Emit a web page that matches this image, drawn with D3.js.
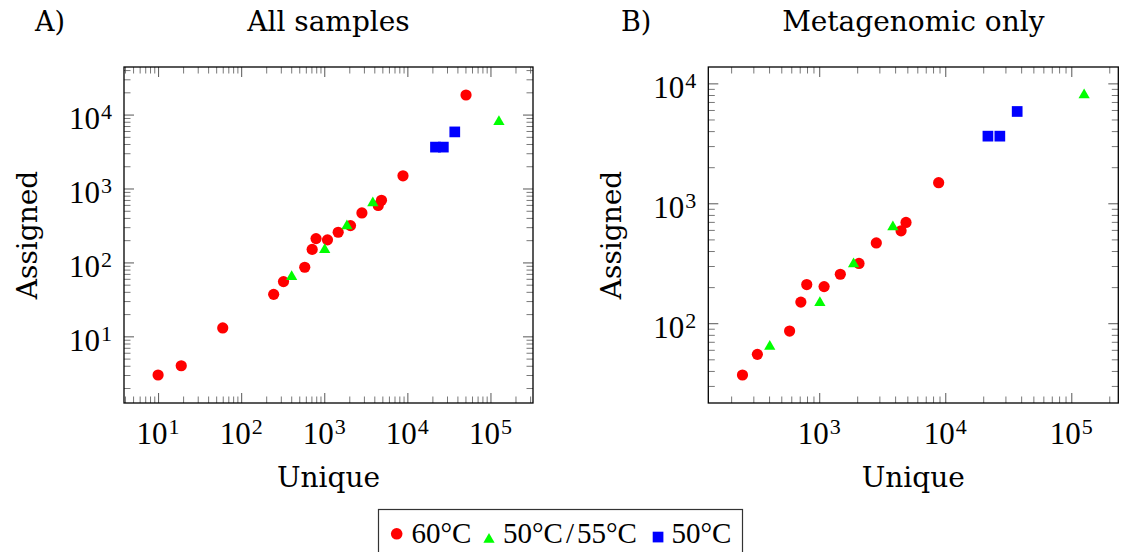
<!DOCTYPE html>
<html>
<head>
<meta charset="utf-8">
<script src="https://cdn.jsdelivr.net/npm/d3@7"></script>
<style>
  html, body { margin: 0; padding: 0; background: #fff; }
  svg { display: block; }
</style>
</head>
<body>
<svg id="chart" width="1125" height="552"></svg>
<script>
// ---------------- data ----------------
// 60°C samples (red circles)
const redUnique   = [10, 19, 60, 246, 323, 582, 715, 796, 1093, 1470, 2068, 2837, 4460, 4880, 8860, 50800];
const redAssigned = [3.0, 4.0, 13, 37, 55, 86, 150, 210, 202, 256, 315, 467, 590, 692, 1486, 18400];
const redMetagenomic = [false, false, false, true, true, true, true, true, true, true, true, true, true, true, true, false];
// 50°C/55°C samples (green triangles)
const greenUnique   = [405, 1012, 1873, 3840, 126400];
const greenAssigned = [64, 148, 312, 635, 8000];
const greenMetagenomic = [true, true, true, true, true];
// 50°C samples (blue squares)
const blueUnique   = [21800, 27100, 37200];
const blueAssigned = [3630, 3630, 5830];
const blueMetagenomic = [true, true, true];

const seriesNames = ["60°C", "50°C/55°C", "50°C"];
const panelTitles = ["All samples", "Metagenomic only"];
const panelLetters = ["A)", "B)"];
const xLabel = "Unique";
const yLabel = "Assigned";
// tick labels (exponents of 10)
const xTickExpA = [1, 2, 3, 4, 5];
const yTickExpA = [1, 2, 3, 4];
const xTickExpB = [3, 4, 5];
const yTickExpB = [2, 3, 4];

// ---------------- layout ----------------
const COLORS = { red: "#ff0000", green: "#00ff00", blue: "#0000ff" };
const WORD_FONT = "'DejaVu Serif', serif";
const NUM_FONT = "'Liberation Serif', 'Times New Roman', serif";

const svg = d3.select("#chart");

function buildSeries(onlyMeta) {
  const mk = (xs, ys, flags) => xs.map((x, i) => ({ x, y: ys[i], keep: !onlyMeta || flags[i] })).filter(d => d.keep);
  return {
    red: mk(redUnique, redAssigned, redMetagenomic),
    green: mk(greenUnique, greenAssigned, greenMetagenomic),
    blue: mk(blueUnique, blueAssigned, blueMetagenomic)
  };
}

function logExtent(vals) {
  const l = vals.map(Math.log10);
  const mn = d3.min(l), mx = d3.max(l);
  const e = (mx - mn) * 0.1;
  return [Math.pow(10, mn - e), Math.pow(10, mx + e)];
}

function minorValues(domain) {
  const out = [];
  const k0 = Math.floor(Math.log10(domain[0])), k1 = Math.ceil(Math.log10(domain[1]));
  for (let k = k0; k <= k1; k++) {
    for (let m = 2; m <= 9; m++) {
      const v = m * Math.pow(10, k);
      if (v >= domain[0] && v <= domain[1]) out.push(v);
    }
  }
  return out;
}

const panels = [
  { left: 124, right: 533, top: 67, bottom: 403, onlyMeta: false, title: panelTitles[0], letter: panelLetters[0], letterX: 35, xExp: xTickExpA, yExp: yTickExpA },
  { left: 708.3, right: 1118.3, top: 67, bottom: 403, onlyMeta: true, title: panelTitles[1], letter: panelLetters[1], letterX: 621, xExp: xTickExpB, yExp: yTickExpB }
];

function triPath(r) {
  return `M0,${-r}L${0.866 * r},${0.5 * r}L${-0.866 * r},${0.5 * r}Z`;
}

function addPowerLabel(sel, exp) {
  sel.append("tspan").attr("font-size", 31).text("10");
  sel.append("tspan").attr("font-size", 22).attr("dy", -10).attr("dx", 1).text(String(exp));
}

panels.forEach(p => {
  const s = buildSeries(p.onlyMeta);
  const all = [...s.red, ...s.green, ...s.blue];
  const xDom = logExtent(all.map(d => d.x));
  const yDom = logExtent(all.map(d => d.y));
  const x = d3.scaleLog().domain(xDom).range([p.left, p.right]);
  const y = d3.scaleLog().domain(yDom).range([p.bottom, p.top]);

  const g = svg.append("g");

  const xMaj = p.xExp.map(e => Math.pow(10, e));
  const yMaj = p.yExp.map(e => Math.pow(10, e));
  const xMin = minorValues(xDom);
  const yMin = minorValues(yDom);

  const axes = [
    [d3.axisBottom, x, `translate(0,${p.bottom})`],
    [d3.axisTop, x, `translate(0,${p.top})`],
    [d3.axisLeft, y, `translate(${p.left},0)`],
    [d3.axisRight, y, `translate(${p.right},0)`]
  ];
  axes.forEach(([fn, sc, tr]) => {
    const isX = sc === x;
    const maj = isX ? xMaj : yMaj;
    const min = isX ? xMin : yMin;
    const gm = g.append("g").attr("transform", tr).attr("color", "#555")
      .call(fn(sc).tickValues(min).tickSize(-6.5).tickFormat(""));
    gm.select(".domain").remove();
    gm.selectAll("line").attr("stroke-width", 0.8);
    const gM = g.append("g").attr("transform", tr).attr("color", "#444")
      .call(fn(sc).tickValues(maj).tickSize(-10).tickFormat(""));
    gM.select(".domain").remove();
    gM.selectAll("line").attr("stroke-width", 0.9);
  });

  // frame
  g.append("rect")
    .attr("x", p.left).attr("y", p.top)
    .attr("width", p.right - p.left).attr("height", p.bottom - p.top)
    .attr("fill", "none").attr("stroke", "#000").attr("stroke-width", 1.3);

  // tick labels
  xMaj.forEach((v, i) => {
    const t = g.append("text")
      .attr("x", x(v)).attr("y", p.bottom + 41)
      .attr("text-anchor", "middle")
      .attr("font-family", NUM_FONT).attr("fill", "#000");
    addPowerLabel(t, p.xExp[i]);
  });
  yMaj.forEach((v, i) => {
    const t = g.append("text")
      .attr("x", p.left - 12).attr("y", y(v) + 14.5)
      .attr("text-anchor", "end")
      .attr("font-family", NUM_FONT).attr("fill", "#000");
    addPowerLabel(t, p.yExp[i]);
  });

  // axis labels
  g.append("text")
    .attr("x", (p.left + p.right) / 2).attr("y", 487)
    .attr("text-anchor", "middle")
    .attr("font-family", WORD_FONT).attr("font-size", 28)
    .text(xLabel);
  g.append("text")
    .attr("transform", `translate(${p.left - 87},${(p.top + p.bottom) / 2}) rotate(-90)`)
    .attr("text-anchor", "middle")
    .attr("font-family", WORD_FONT).attr("font-size", 28)
    .text(yLabel);

  // title and panel letter
  g.append("text")
    .attr("x", (p.left + p.right) / 2).attr("y", 31)
    .attr("text-anchor", "middle")
    .attr("font-family", WORD_FONT).attr("font-size", 28)
    .text(p.title);
  g.append("text")
    .attr("x", p.letterX).attr("y", 31)
    .attr("font-family", WORD_FONT).attr("font-size", 27)
    .text(p.letter);

  // marks
  g.append("g").selectAll("circle").data(s.red).join("circle")
    .attr("cx", d => x(d.x)).attr("cy", d => y(d.y)).attr("r", 5.6)
    .attr("fill", COLORS.red);
  g.append("g").selectAll("path").data(s.green).join("path")
    .attr("transform", d => `translate(${x(d.x)},${y(d.y)})`)
    .attr("d", triPath(6.5))
    .attr("fill", COLORS.green);
  g.append("g").selectAll("rect").data(s.blue).join("rect")
    .attr("x", d => x(d.x) - 5.35).attr("y", d => y(d.y) - 5.35)
    .attr("width", 10.7).attr("height", 10.7)
    .attr("fill", COLORS.blue);
});

// ---------------- legend ----------------
const lg = svg.append("g");
lg.append("rect")
  .attr("x", 378.5).attr("y", 509.5).attr("width", 364).attr("height", 60)
  .attr("fill", "#fff").attr("stroke", "#333").attr("stroke-width", 1.2);
lg.append("circle").attr("cx", 396.7).attr("cy", 533.8).attr("r", 5.8).attr("fill", COLORS.red);
lg.append("path").attr("transform", "translate(489,539.4)").attr("d", triPath(6.5)).attr("fill", COLORS.green);
lg.append("rect").attr("x", 652.7).attr("y", 531.7).attr("width", 10.7).attr("height", 10.7).attr("fill", COLORS.blue);

const legendText = (xp) => lg.append("text").attr("x", xp).attr("y", 542.7)
  .attr("font-family", NUM_FONT).attr("font-size", 29).attr("fill", "#000");
legendText(411.5).text(seriesNames[0]);
{
  const parts = seriesNames[1].split("/");
  const t = legendText(503);
  t.append("tspan").text(parts[0]);
  t.append("tspan").attr("dx", 3).text("/");
  t.append("tspan").attr("dx", 3).text(parts[1]);
}
legendText(671.5).text(seriesNames[2]);
</script>
</body>
</html>
